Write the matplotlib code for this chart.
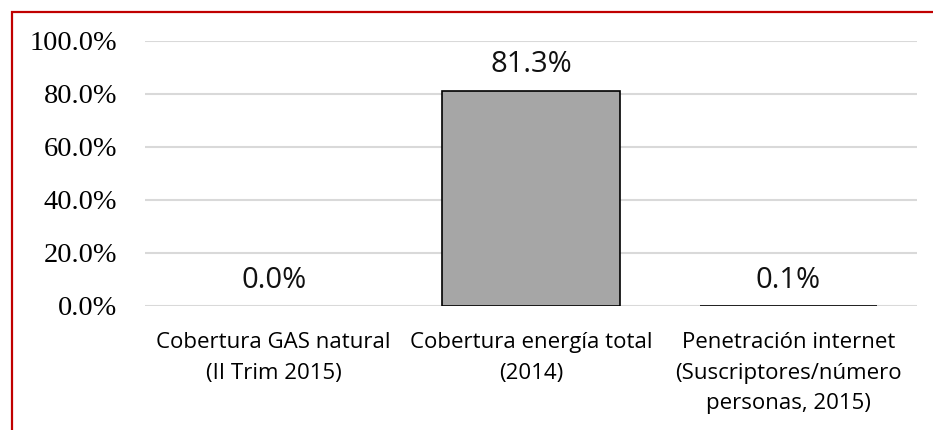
import matplotlib
matplotlib.use("Agg")
import matplotlib.pyplot as plt
from matplotlib.patches import Rectangle
from matplotlib.ticker import FuncFormatter

categorias = ["Cobertura GAS natural\n(II Trim 2015)",
              "Cobertura energía total\n(2014)",
              "Penetración internet\n(Suscriptores/número\npersonas, 2015)"]
valores = [0.0, 0.813, 0.001]
etiquetas = ["0.0%", "81.3%", "0.1%"]
ticks_y = [0.0, 0.2, 0.4, 0.6, 0.8, 1.0]

fig = plt.figure(figsize=(9.33, 4.30), dpi=100)
ax = fig.add_axes([0.1554, 0.2884, 0.8275, 0.6163])

x = range(len(categorias))
bordes = [0 if v == 0 else 1.2 for v in valores]
ax.bar(x, valores, width=0.69, color="#a6a6a6", edgecolor="black", linewidth=bordes, zorder=3)
for xi, v, t in zip(x, valores, etiquetas):
    ax.annotate(t, (xi, v), xytext=(0, 8), textcoords="offset points",
                ha="center", va="bottom", fontsize=21, family="Open Sans", color="#111111")

ax.set_ylim(0, 1.0)
ax.set_xlim(-0.5, 2.5)
ax.set_yticks(ticks_y)
ax.yaxis.set_major_formatter(FuncFormatter(lambda v, _: f"{v*100:.1f}%"))
ax.set_xticks(list(x))
ax.set_xticklabels(categorias, fontsize=16, family="Open Sans", linespacing=1.58)
for lab in ax.get_yticklabels():
    lab.set_family("Liberation Serif")
    lab.set_fontsize(20.4)
ax.tick_params(axis="both", length=0)
ax.tick_params(axis="y", pad=20)
ax.tick_params(axis="x", pad=19)
ax.grid(axis="y", color="#d9d9d9", linewidth=1.5, zorder=0)
for s in ax.spines.values():
    s.set_visible(False)

# red frame, only left and top edges fall inside the canvas
fig.patches.append(Rectangle((12 / 933, -0.1), 1.2, (430 - 12) / 430 + 0.1,
                             transform=fig.transFigure, fill=False,
                             edgecolor="#c00000", linewidth=1.6))

fig.savefig("out.png", dpi=100)
